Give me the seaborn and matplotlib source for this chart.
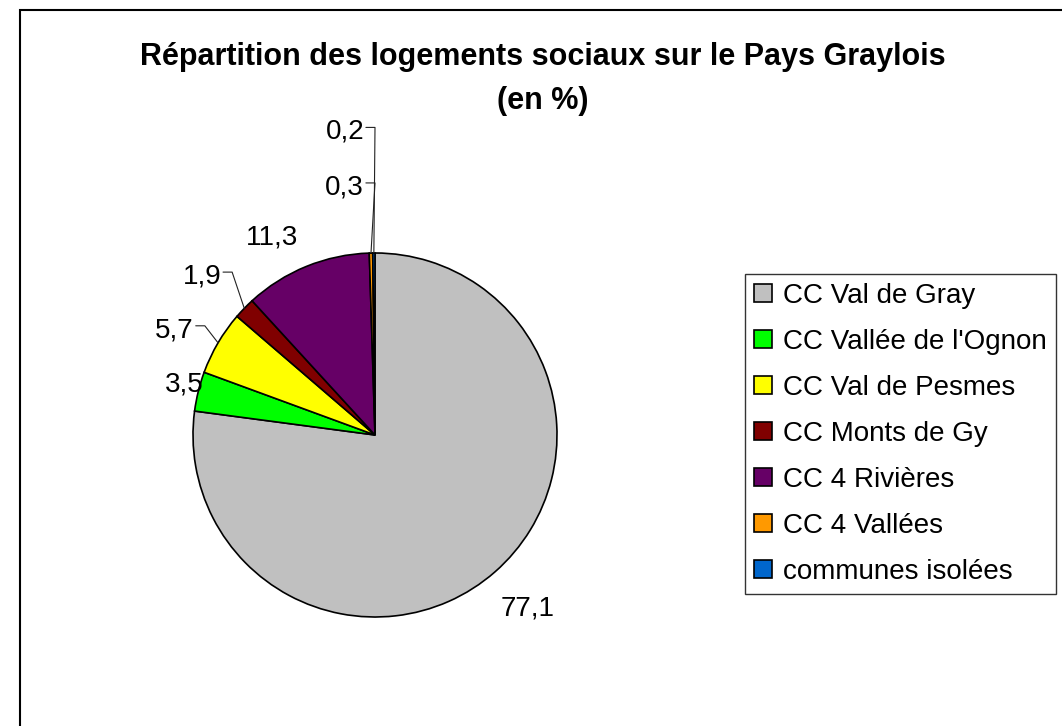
import matplotlib
matplotlib.use("Agg")
import matplotlib.pyplot as plt
import seaborn as sns
from matplotlib.patches import Rectangle
import numpy as np

# données
categories = ["CC Val de Gray", "CC Vallée de l'Ognon", "CC Val de Pesmes",
              "CC Monts de Gy", "CC 4 Rivières", "CC 4 Vallées", "communes isolées"]
valeurs = [77.1, 3.5, 5.7, 1.9, 11.3, 0.3, 0.2]
etiquettes = ["77,1", "3,5", "5,7", "1,9", "11,3", "0,3", "0,2"]
couleurs = ["#C0C0C0", "#00FF00", "#FFFF00", "#800000", "#660066", "#FF9900", "#0066CC"]

titre = "Répartition des logements sociaux sur le Pays Graylois\n(en %)"

sns.set_style("white")
plt.rcParams['font.family'] = ['Liberation Sans', 'DejaVu Sans']
plt.rcParams['text.color'] = 'black'

W, H = 1062, 726
fig = plt.figure(figsize=(W / 100, H / 100), dpi=100)
ax = fig.add_axes([0, 0, 1, 1])

palette = sns.color_palette(couleurs)
wedges, _ = ax.pie(valeurs, colors=palette, startangle=90, counterclock=False,
                   wedgeprops=dict(edgecolor="black", linewidth=1.2))

# centre du camembert à (375, 435) px, rayon 182 px
cx, cy, r = 375, 435, 182
ax.set_xlim(-cx / r, (W - cx) / r)
ax.set_ylim(-(H - cy) / r, cy / r)
ax.set_aspect('auto')
ax.axis('off')

# position des étiquettes (coordonnées du camembert), None = placée sur la bissectrice
pos_etiquettes = [None, (-1.05, 0.275), (-0.995, 0.575), (-0.845, 0.87), (-0.566, 1.085),
                  (-0.06, 1.36), (-0.06, 1.665)]
avec_ligne = [False, False, True, True, False, True, True]

fs = 20
for w, lab, pos, ligne in zip(wedges, etiquettes, pos_etiquettes, avec_ligne):
    th = np.deg2rad((w.theta1 + w.theta2) / 2)
    if pos is None:
        rr = 1.27
        ax.text(rr * np.cos(th), rr * np.sin(th), lab, ha="center", va="center",
                fontsize=fs, color="black")
    elif not ligne:
        ax.text(pos[0], pos[1], lab, ha="center", va="center", fontsize=fs, color="black")
    else:
        ax.text(pos[0], pos[1], lab, ha="right", va="center", fontsize=fs, color="black")
        x0 = pos[0] + 0.01
        ex, ey = np.cos(th), np.sin(th)
        ax.plot([x0, x0 + 0.05, ex], [pos[1] + 0.025, pos[1] + 0.025, ey],
                color="#222222", linewidth=0.8)

fig.text(543 / W, 1 - 79 / H, titre, ha="center", va="center", fontsize=22,
         fontweight="bold", linespacing=1.6, color="black")

leg = fig.legend(wedges, categories, loc="upper left", bbox_to_anchor=(745 / W, 1 - 274 / H),
                 fontsize=fs, frameon=True, fancybox=False, handlelength=0.65, handleheight=0.65,
                 labelspacing=0.72, handletextpad=0.4, borderpad=0.32, borderaxespad=0)
leg.get_frame().set_edgecolor("black")
leg.get_frame().set_linewidth(1.0)
for t in leg.get_texts():
    t.set_color("black")

# cadre du graphique
fig.patches.append(Rectangle((20 / W, -0.1), 1.2, 1.1 - 10 / H, transform=fig.transFigure,
                             fill=False, edgecolor="black", linewidth=1.5))

fig.savefig("out.png", dpi=100)
